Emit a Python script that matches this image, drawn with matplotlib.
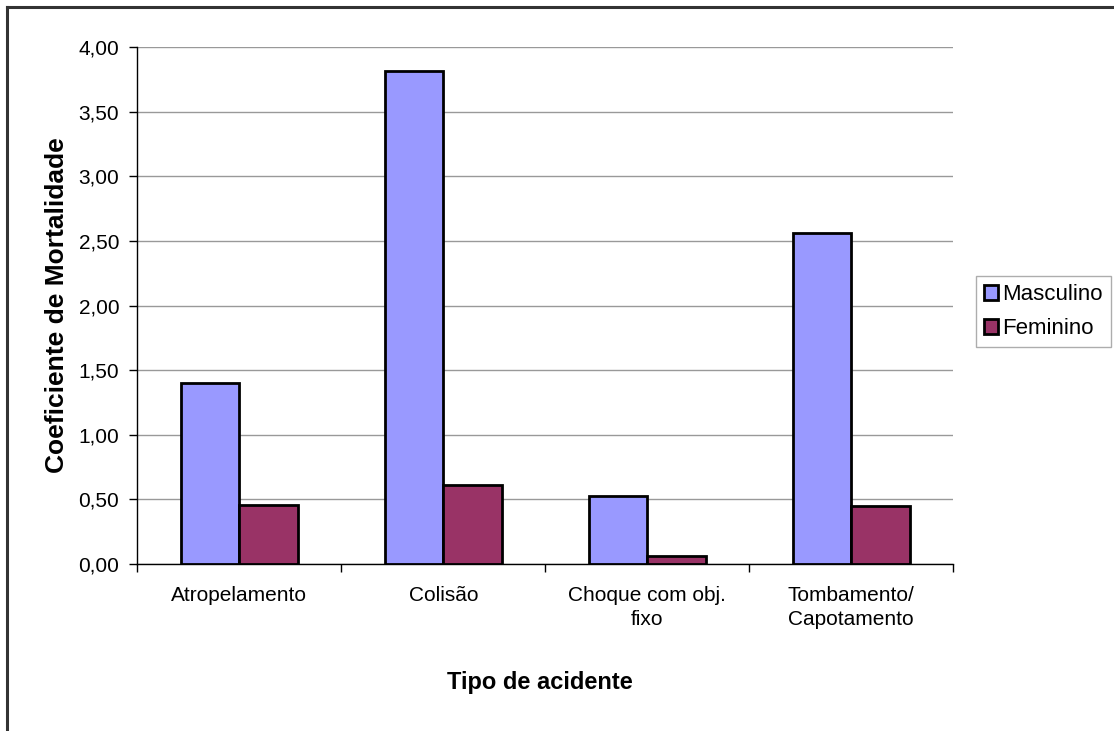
import numpy as np
import matplotlib.pyplot as plt
from matplotlib.lines import Line2D
from matplotlib.patches import Patch

plt.rcParams['font.family'] = ['Liberation Sans', 'DejaVu Sans']

# dados
categorias = ['Atropelamento', 'Colisão', 'Choque com obj.\nfixo', 'Tombamento/\nCapotamento']
masculino = [1.40, 3.82, 0.53, 2.56]
feminino = [0.46, 0.61, 0.06, 0.45]
y_ticks = [0.0, 0.5, 1.0, 1.5, 2.0, 2.5, 3.0, 3.5, 4.0]

COR_M = '#9999FF'
COR_F = '#993366'

fig = plt.figure(figsize=(11.14, 7.31), dpi=100)
ax = fig.add_axes([0.1233, 0.2285, 0.7324, 0.7068])

x = np.arange(len(categorias))
w = 1 / 3.5  # gap de 150%
ax.bar(x - w / 2, masculino, w, color=COR_M, edgecolor='black', linewidth=2, zorder=3)
ax.bar(x + w / 2, feminino, w, color=COR_F, edgecolor='black', linewidth=2, zorder=3)

ax.set_xlim(-0.5, len(categorias) - 0.5)
ax.set_ylim(0, 4)
ax.set_yticks(y_ticks)
ax.set_yticklabels([f'{v:.2f}'.replace('.', ',') for v in y_ticks])
ax.yaxis.grid(True, color='#999999', linewidth=1, zorder=0)

# rotulos no centro, marcas nas divisas das categorias
ax.set_xticks(x)
ax.set_xticklabels(categorias, linespacing=1.3)
ax.set_xticks(np.arange(len(categorias) + 1) - 0.5, minor=True)
ax.tick_params(axis='x', which='major', length=0, pad=16, labelsize=15)
ax.tick_params(axis='x', which='minor', length=6, width=1, direction='out')
ax.tick_params(axis='y', length=6, width=1, direction='out', pad=7, labelsize=15)

for s in ['top', 'right']:
    ax.spines[s].set_visible(False)
ax.spines['left'].set_linewidth(1)
ax.spines['bottom'].set_linewidth(1)

fig.text(0.485, 0.067, 'Tipo de acidente', ha='center', va='center',
         fontsize=17, fontweight='bold')
fig.text(0.051, 0.583, 'Coeficiente de Mortalidade', ha='center', va='center',
         rotation=90, fontsize=19, fontweight='bold')

handles = [Patch(facecolor=COR_M, edgecolor='black', linewidth=2, label='Masculino'),
           Patch(facecolor=COR_F, edgecolor='black', linewidth=2, label='Feminino')]
leg = fig.legend(handles=handles, loc='upper left', bbox_to_anchor=(0.876, 0.622),
                 fontsize=16, frameon=True, fancybox=False, handlelength=0.65,
                 handleheight=0.65, handletextpad=0.2, borderpad=0.35,
                 labelspacing=0.6, borderaxespad=0)
leg.get_frame().set_edgecolor('#999999')
leg.get_frame().set_linewidth(1)

# moldura externa
fig.add_artist(Line2D([7 / 1114, 1.0], [1 - 7 / 731] * 2, color='#333333', linewidth=2.2))
fig.add_artist(Line2D([7 / 1114] * 2, [0.0, 1 - 7 / 731], color='#333333', linewidth=2.2))

fig.savefig('out.png', dpi=100, facecolor='white')
